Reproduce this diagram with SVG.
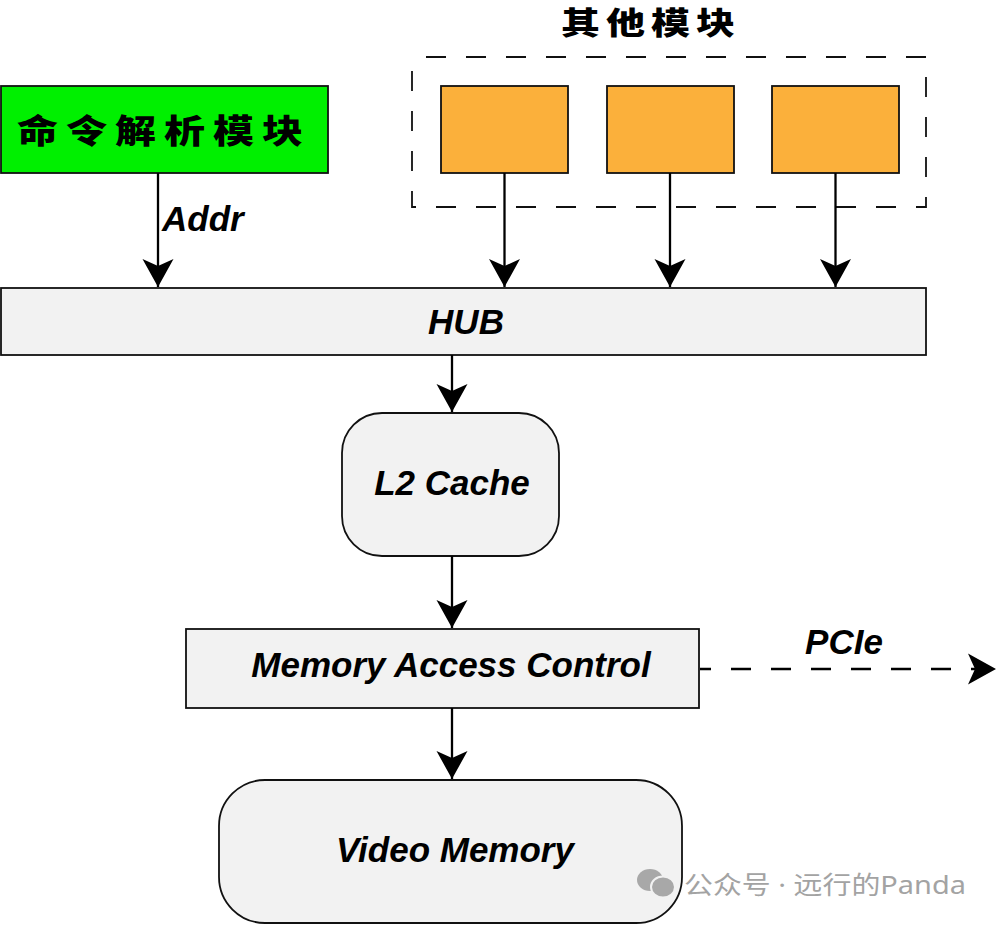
<svg xmlns="http://www.w3.org/2000/svg" width="999" height="925" viewBox="0 0 999 925">
<style>
.box{stroke:#111;stroke-width:1.8}
.gray{fill:#f2f2f2}
.orange{fill:#fbb03b}
.lbl{font-family:"Liberation Sans",Arial,sans-serif;font-weight:bold;font-style:italic;font-size:35px;fill:#000}
.cjk{font-family:"Noto Sans CJK SC",sans-serif;font-weight:900;fill:#000}
.conn{stroke:#000;stroke-width:2.3;fill:none}
.wm{font-family:"Noto Sans","Noto Sans CJK SC",sans-serif;font-size:25px;fill:#a3a3a3}
</style>
<defs>
<marker id="arr" viewBox="-29 -17 30 34" markerWidth="30" markerHeight="34" refX="0" refY="0" markerUnits="userSpaceOnUse" orient="auto">
<path d="M0,0 L-28,-15.5 L-21,0 L-28,15.5 Z" fill="#000"/>
</marker>
</defs>
<rect width="999" height="925" fill="#fff"/>

<g id="other-modules">
<rect x="412" y="57" width="514" height="150" fill="none" stroke="#111" stroke-width="1.8" stroke-dasharray="20 20" stroke-dashoffset="-14"/>
<text class="cjk" transform="translate(651,34) scale(1,0.78)" font-size="39" letter-spacing="6" text-anchor="middle">其他模块</text>
</g>
<g id="cmd-parser">
<rect class="box" x="1" y="86" width="327" height="87" fill="#00f000"/>
<text class="cjk" transform="translate(164,143) scale(1,0.8)" font-size="41" letter-spacing="8" text-anchor="middle">命令解析模块</text>
</g>
<g id="mod1"><rect class="box orange" x="441" y="86" width="127" height="87"/></g>
<g id="mod2"><rect class="box orange" x="607" y="86" width="127" height="87"/></g>
<g id="mod3"><rect class="box orange" x="772" y="86" width="127" height="87"/></g>
<g id="hub">
<rect class="box gray" x="1" y="288" width="925" height="67"/>
<text class="lbl" x="466" y="334" text-anchor="middle">HUB</text>
</g>
<g id="l2">
<rect class="box gray" x="342" y="413" width="217" height="143" rx="40" ry="40"/>
<text class="lbl" x="452" y="495" text-anchor="middle">L2 Cache</text>
</g>
<g id="mac">
<rect class="box gray" x="186" y="629" width="513" height="79"/>
<text class="lbl" x="451" y="677" text-anchor="middle" font-size="35.5">Memory Access Control</text>
</g>
<g id="vmem">
<rect class="box gray" x="219" y="780" width="463" height="143" rx="46" ry="46"/>
<text class="lbl" x="455" y="862" text-anchor="middle" font-size="36">Video Memory</text>
</g>

<g id="connectors">
<line class="conn" x1="158" y1="173" x2="158" y2="287" marker-end="url(#arr)"/>
<text class="lbl" x="162" y="231">Addr</text>
<line class="conn" x1="504.5" y1="173" x2="504.5" y2="287" marker-end="url(#arr)"/>
<line class="conn" x1="670" y1="173" x2="670" y2="287" marker-end="url(#arr)"/>
<line class="conn" x1="835.5" y1="173" x2="835.5" y2="287" marker-end="url(#arr)"/>
<line class="conn" x1="452" y1="355" x2="452" y2="412" marker-end="url(#arr)"/>
<line class="conn" x1="452" y1="556" x2="452" y2="628" marker-end="url(#arr)"/>
<line class="conn" x1="452" y1="708" x2="452" y2="779" marker-end="url(#arr)"/>
<line class="conn" x1="700" y1="669" x2="996" y2="669" stroke-width="2.6" stroke-dasharray="20 20" stroke-dashoffset="9" marker-end="url(#arr)"/>
<text class="lbl" x="844" y="654" text-anchor="middle">PCIe</text>
</g>

<g id="watermark">
<ellipse cx="650" cy="880" rx="13" ry="11" fill="#a8a8a8"/>
<ellipse cx="663" cy="887" rx="12" ry="10.5" fill="#a8a8a8" stroke="#f2f2f2" stroke-width="2"/>
<text class="wm" x="684" y="894" textLength="282" lengthAdjust="spacingAndGlyphs">公众号 · 远行的Panda</text>
</g>
</svg>
